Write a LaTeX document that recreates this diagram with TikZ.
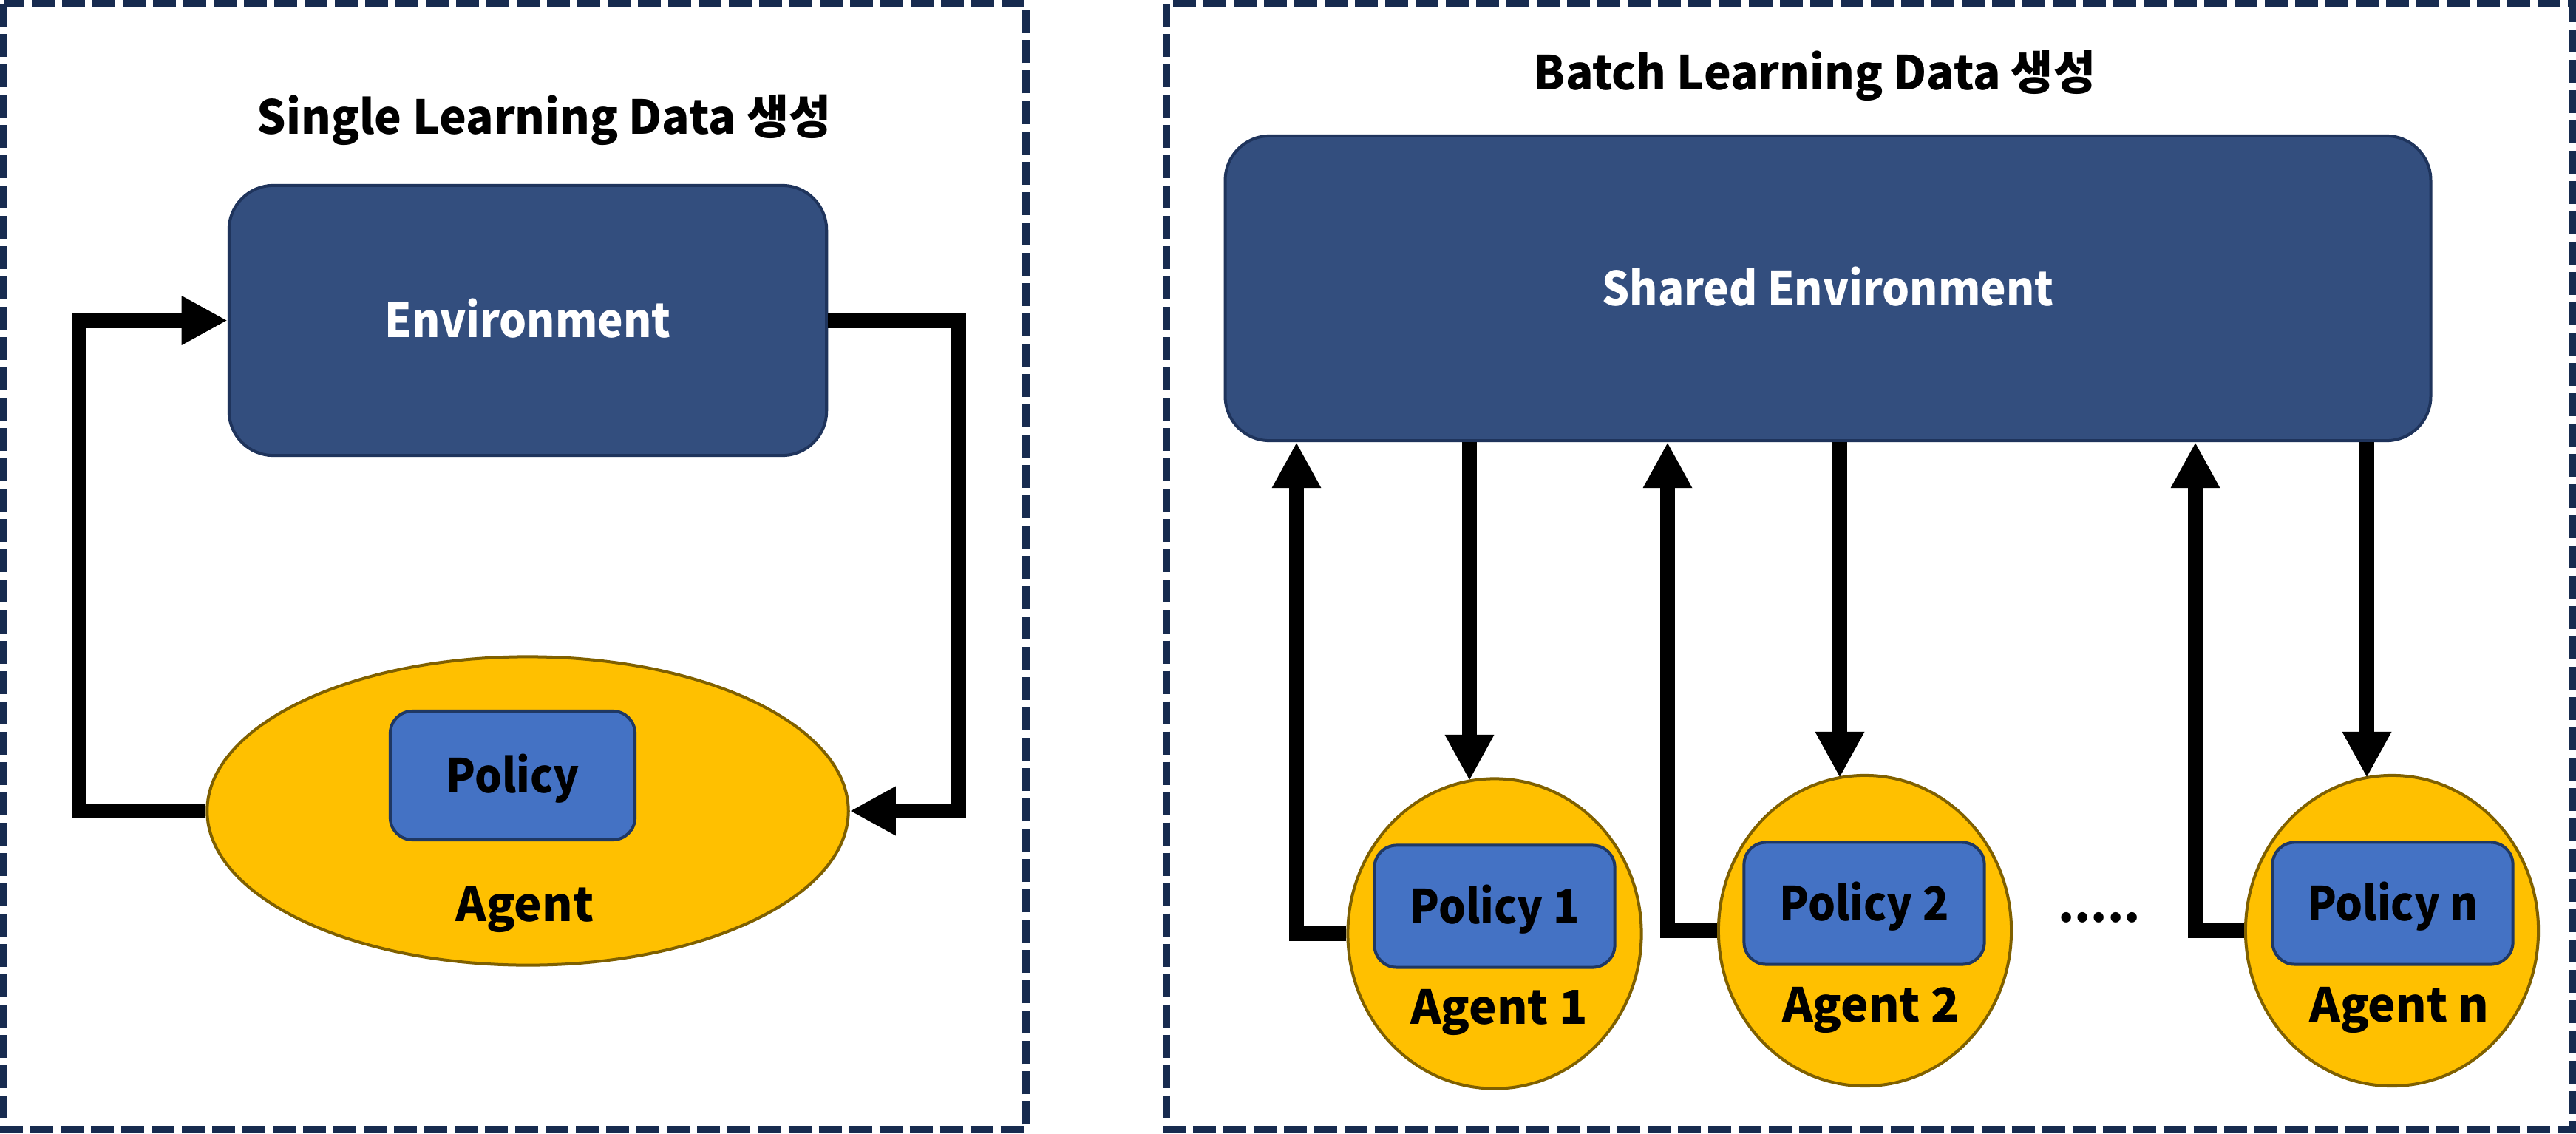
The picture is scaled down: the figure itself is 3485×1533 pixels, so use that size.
\documentclass[tikz,border=0pt]{standalone}
\usepackage{fontspec}
\setmainfont{Noto Sans CJK KR}
\newfontfamily\narrowfont{Noto Sans CJK KR}[FakeStretch=0.92]
\newfontfamily\titlefont{Noto Sans CJK KR}[FakeStretch=0.98]
\usetikzlibrary{arrows.meta,shapes.geometric}
\definecolor{frame}{RGB}{23,43,79}
\definecolor{envfill}{RGB}{51,78,126}
\definecolor{envdraw}{RGB}{31,52,92}
\definecolor{polfill}{RGB}{68,114,196}
\definecolor{poldraw}{RGB}{31,56,100}
\definecolor{agfill}{RGB}{255,192,0}
\definecolor{agdraw}{RGB}{127,96,0}
\begin{document}
\begin{tikzpicture}[x=0.01cm,y=-0.01cm,
  panel/.style={draw=frame,line width=0.1cm,dash pattern=on 0.31cm off 0.10cm},
  txt/.style={font=\fontsize{18}{22}\selectfont\bfseries},
  ntxt/.style={font=\narrowfont\fontsize{18}{22}\selectfont\bfseries},
  ttxt/.style={font=\titlefont\fontsize{18}{22}\selectfont\bfseries},
  envbox/.style={draw=envdraw,fill=envfill,line width=0.04cm,rounded corners=0.6cm,inner sep=0,text=white,ntxt,text height=13.1pt,text depth=0pt},
  polbox/.style={draw=poldraw,fill=polfill,line width=0.04cm,rounded corners=0.3cm,inner sep=0,ntxt,text height=13.1pt,text depth=0pt},
  agent/.style={ellipse,draw=agdraw,fill=agfill,line width=0.04cm,inner sep=0},
  lbl/.style={anchor=base,inner sep=0,txt},
  ttl/.style={anchor=base,inner sep=0,ttxt},
  conn/.style={line width=0.2cm,-{Triangle[length=0.62cm,width=0.62cm]}},
]
\useasboundingbox (0,0) rectangle (3485,1533);
\fill[white] (0,0) rectangle (3485,1533);
% panels
\draw[panel] (5,5) rectangle (1388,1528);
\draw[panel] (1578,5) rectangle (3480,1528);

% ---------- left panel ----------
\node[ttl] (t1) at (736,181) {Single Learning Data 생성};
\node[envbox,minimum width=8.08cm,minimum height=3.65cm] (env) at (714,433.5) {Environment};
\node[agent,minimum width=8.67cm,minimum height=4.17cm] (ag) at (714,1097) {};
\node[polbox,minimum width=3.31cm,minimum height=1.74cm] (pol) at (693.5,1049) {Policy};
\node[lbl] (agt) at (710,1246) {Agent};
\coordinate (lc) at (107,1097);
\coordinate (rc) at (1297,1097);
\draw[conn] (ag.west) -- (lc) |- (env.west);
\draw[conn] (env.east) -| (rc) -- (ag.east);

% ---------- right panel ----------
\node[ttl] (t2) at (2455,121) {Batch Learning Data 생성};
\node[envbox,minimum width=16.30cm,minimum height=4.12cm] (senv) at (2473,390) {Shared Environment};

\node[agent,minimum width=3.97cm,minimum height=4.19cm] (a1) at (2022,1263) {};
\node[agent,minimum width=3.96cm,minimum height=4.20cm] (a2) at (2523,1259) {};
\node[agent,minimum width=3.96cm,minimum height=4.20cm] (an) at (3236,1259) {};

\node[polbox,minimum width=3.25cm,minimum height=1.65cm] (p1) at (2022,1226) {Policy 1};
\node[polbox,minimum width=3.25cm,minimum height=1.65cm] (p2) at (2522,1222) {Policy 2};
\node[polbox,minimum width=3.25cm,minimum height=1.65cm] (pn) at (3237,1222) {Policy n};

\node[lbl] (g1) at (2028,1385) {Agent 1};
\node[lbl] (g2) at (2531,1382) {Agent 2};
\node[lbl] (gn) at (3246,1382) {Agent n};
\node[lbl] (dots) at (2840,1247) {.....};

\coordinate (u1) at (1754,0);
\coordinate (u2) at (2256,0);
\coordinate (un) at (2970,0);
\draw[conn] (a1.west) -| (u1 |- senv.south);
\draw[conn] (a2.west) -| (u2 |- senv.south);
\draw[conn] (an.west) -| (un |- senv.south);

\coordinate (d1) at (1988,1056);
\coordinate (d2) at (2489,1052);
\coordinate (dn) at (3202,1052);
\draw[conn] (senv.south -| d1) -- (d1);
\draw[conn] (senv.south -| d2) -- (d2);
\draw[conn] (senv.south -| dn) -- (dn);
\end{tikzpicture}
\end{document}
